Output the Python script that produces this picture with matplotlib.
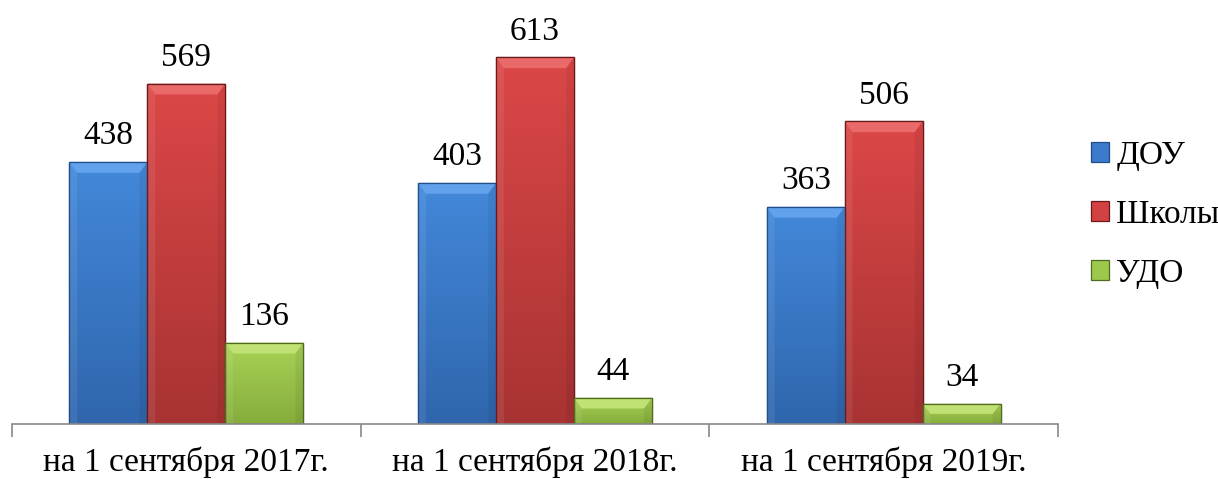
import numpy as np
import matplotlib.pyplot as plt
from matplotlib.patches import Polygon
from matplotlib.colors import LinearSegmentedColormap

plt.rcParams['font.family'] = ['Liberation Serif', 'DejaVu Serif']

categories = ["на 1 сентября 2017г.", "на 1 сентября 2018г.", "на 1 сентября 2019г."]
series = ["ДОУ", "Школы", "УДО"]
dou = [438, 403, 363]
schools = [569, 613, 506]
udo = [136, 44, 34]

colors = ["#3c7acb", "#d24242", "#9cc94c"]
tops = ["#4388da", "#dc4747", "#a8d257"]
bottoms = ["#2f66ad", "#a83333", "#86ad3c"]
bevel = ["#62a2ec", "#ea6a6a", "#c0e274"]
edges = ["#1f4f8a", "#6a1a1a", "#4f6b1f"]

fig = plt.figure(figsize=(12.18, 4.79), dpi=100)
ax = fig.add_axes([0.00985, 0.1148, 0.8588, 0.874])

x = np.arange(len(categories))
w = 0.2235
grad = np.linspace(0, 1, 200).reshape(-1, 1)
for i, vals in enumerate([dou, schools, udo]):
    cm = LinearSegmentedColormap.from_list(f"g{i}", [bottoms[i], tops[i]])
    bars = ax.bar(x + (i - 1) * w, vals, w, color=colors[i], edgecolor=edges[i],
                  linewidth=0.9, label=series[i], zorder=2)
    for b, v in zip(bars, vals):
        x0, y0 = b.get_x(), b.get_height()
        bw = b.get_width()
        im = ax.imshow(grad, extent=[x0, x0 + bw, 0, y0], origin='lower', cmap=cm,
                       aspect='auto', zorder=2.1, interpolation='bilinear')
        im.set_clip_path(b)
        dh = min(18, y0 * 0.5)
        dx = bw * 0.1
        ax.add_patch(Polygon([(x0, y0), (x0 + bw, y0), (x0 + bw - dx, y0 - dh),
                              (x0 + dx, y0 - dh)], closed=True,
                             facecolor=bevel[i], edgecolor='none', zorder=3))
        ax.add_patch(Polygon([(x0, 0), (x0, y0), (x0 + dx, y0 - dh), (x0 + dx, 0)],
                             closed=True, facecolor='white', alpha=0.08,
                             edgecolor='none', zorder=3))
        ax.add_patch(Polygon([(x0 + bw, 0), (x0 + bw, y0), (x0 + bw - dx, y0 - dh),
                              (x0 + bw - dx, 0)], closed=True, facecolor='black',
                             alpha=0.06, edgecolor='none', zorder=3))
        ax.add_patch(plt.Rectangle((x0, 0), bw, y0, facecolor='none',
                                   edgecolor=edges[i], linewidth=0.9, zorder=4))
        ax.text(x0 + bw / 2, y0 + 18, str(v), ha='center', va='bottom', fontsize=24)

ax.set_xlim(-0.5, 2.5)
ax.set_ylim(0, 700)
ax.set_yticks([])
for s in ['top', 'right', 'left']:
    ax.spines[s].set_visible(False)
ax.spines['bottom'].set_color('#888888')
ax.spines['bottom'].set_linewidth(1.2)
ax.spines['bottom'].set_zorder(5)
ax.set_xticks([-0.5, 0.5, 1.5, 2.5])
ax.set_xticklabels([])
ax.tick_params(axis='x', direction='out', length=9, color='#888888', width=1.2)
for xi, c in zip(x, categories):
    ax.text(xi, -78, c, ha='center', va='baseline', fontsize=24)

leg = ax.legend(loc='center left', bbox_to_anchor=(1.003, 0.5), frameon=False,
                fontsize=24, handlelength=0.55, handleheight=0.55,
                handletextpad=0.2, labelspacing=0.85)

fig.savefig("out.png", dpi=100)
